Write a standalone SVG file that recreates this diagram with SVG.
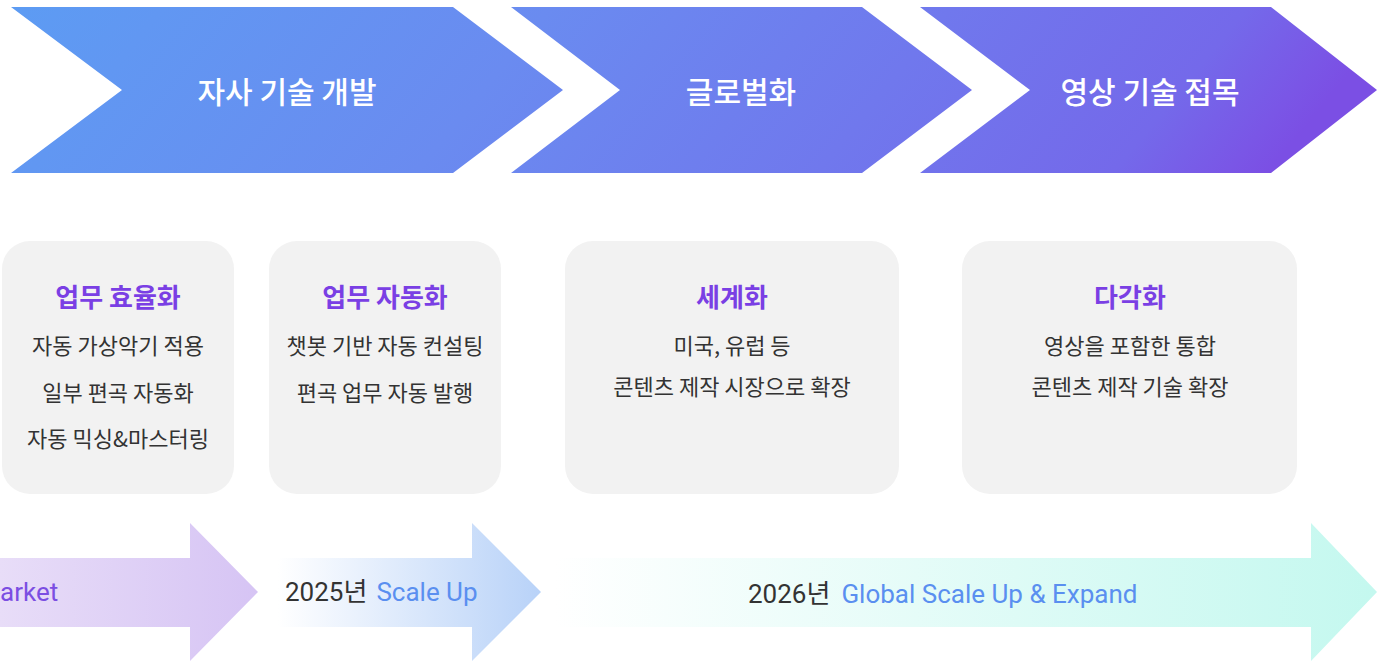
<svg xmlns="http://www.w3.org/2000/svg" width="1377" height="663" viewBox="0 0 1377 663">
<defs>
<linearGradient id="gTop" gradientUnits="userSpaceOnUse" x1="0" y1="0" x2="846" y2="690">
<stop offset="0" stop-color="#5c9cf3"/>
<stop offset="0.12" stop-color="#6197f2"/>
<stop offset="0.395" stop-color="#6a8bf0"/>
<stop offset="0.68" stop-color="#7078ed"/>
<stop offset="0.89" stop-color="#7469ea"/>
<stop offset="0.97" stop-color="#7a56e6"/>
<stop offset="1" stop-color="#7b4fe4"/>
</linearGradient>
<linearGradient id="gA1" gradientUnits="userSpaceOnUse" x1="0" y1="0" x2="258" y2="0">
<stop offset="0" stop-color="#e8ddf8"/>
<stop offset="1" stop-color="#d6c4f4"/>
</linearGradient>
<linearGradient id="gA2" gradientUnits="userSpaceOnUse" x1="278" y1="0" x2="541" y2="0">
<stop offset="0" stop-color="#ffffff"/>
<stop offset="1" stop-color="#b8d2f8"/>
</linearGradient>
<linearGradient id="gA3" gradientUnits="userSpaceOnUse" x1="555" y1="0" x2="1377" y2="0">
<stop offset="0" stop-color="#ffffff"/>
<stop offset="1" stop-color="#c4f8ef"/>
</linearGradient>
<style>
.chev{fill:url(#gTop);}
.chevt{font-family:"Noto Sans CJK KR","Noto Sans",sans-serif;font-size:30px;font-weight:500;fill:#ffffff;text-anchor:middle;dominant-baseline:central;}
.card{fill:#f2f2f2;}
.title{font-family:"Noto Sans CJK KR","Noto Sans",sans-serif;font-size:26px;font-weight:700;fill:#7a3fe4;text-anchor:middle;dominant-baseline:central;}
.body{font-family:"Noto Sans CJK KR","Noto Sans",sans-serif;font-size:22px;font-weight:400;fill:#333333;text-anchor:middle;dominant-baseline:central;}
.at{font-family:Roboto,"Noto Sans CJK KR",sans-serif;font-size:26px;dominant-baseline:central;}
.dark{fill:#333333;}
.blue{fill:#5a8ff0;}
.purp{fill:#7b4ee2;}
</style>
</defs>

<g id="stage-1">
<polygon class="chev" points="11,7 453,7 563,90 453,173 11,173 122,90"/>
<text class="chevt" x="287" y="90">자사 기술 개발</text>
</g>
<g id="stage-2">
<polygon class="chev" points="511,7 862,7 972,90 862,173 511,173 620,90"/>
<text class="chevt" x="741" y="90">글로벌화</text>
</g>
<g id="stage-3">
<polygon class="chev" points="920,7 1271,7 1377,90 1271,173 920,173 1030,90"/>
<text class="chevt" x="1150" y="90">영상 기술 접목</text>
</g>

<g id="card-1">
<rect class="card" x="2" y="241" width="232" height="253" rx="28"/>
<text class="title" x="118" y="295">업무 효율화</text>
<text class="body" x="118" y="344">자동 가상악기 적용</text>
<text class="body" x="118" y="391">일부 편곡 자동화</text>
<text class="body" x="118" y="437">자동 믹싱&amp;마스터링</text>
</g>
<g id="card-2">
<rect class="card" x="269" y="241" width="232" height="253" rx="28"/>
<text class="title" x="385" y="295">업무 자동화</text>
<text class="body" x="385" y="344">챗봇 기반 자동 컨설팅</text>
<text class="body" x="385" y="391">편곡 업무 자동 발행</text>
</g>
<g id="card-3">
<rect class="card" x="565" y="241" width="334" height="253" rx="28"/>
<text class="title" x="732" y="295">세계화</text>
<text class="body" x="732" y="344">미국, 유럽 등</text>
<text class="body" x="732" y="385">콘텐츠 제작 시장으로 확장</text>
</g>
<g id="card-4">
<rect class="card" x="962" y="241" width="335" height="253" rx="28"/>
<text class="title" x="1130" y="295">다각화</text>
<text class="body" x="1130" y="344">영상을 포함한 통합</text>
<text class="body" x="1130" y="385">콘텐츠 제작 기술 확장</text>
</g>

<g id="arrow-1">
<polygon fill="url(#gA1)" points="0,558 190,558 190,523 258,592 190,661 190,627 0,627"/>
<text class="at purp" x="0" y="592">arket</text>
</g>
<g id="arrow-2">
<polygon fill="url(#gA2)" points="278,558 472,558 472,523 541,592 472,661 472,627 278,627"/>
<text class="at" x="285" y="592"><tspan class="dark">2025년</tspan><tspan class="blue" dx="9">Scale Up</tspan></text>
</g>
<g id="arrow-3">
<polygon fill="url(#gA3)" points="555,558 1311,558 1311,523 1377,592 1311,661 1311,627 555,627"/>
<text class="at" x="748" y="594"><tspan class="dark">2026년</tspan><tspan class="blue" dx="11">Global Scale Up &amp; Expand</tspan></text>
</g>

<g id="connectors"></g>
</svg>
